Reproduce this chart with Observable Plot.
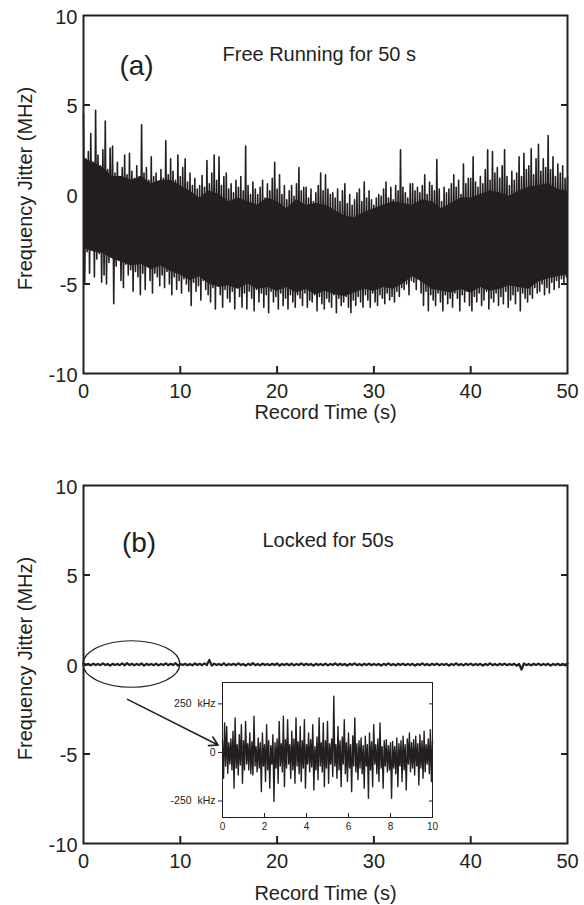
<!DOCTYPE html>
<html><head><meta charset="utf-8">
<script src="https://cdn.jsdelivr.net/npm/d3@7"></script>
<script src="https://cdn.jsdelivr.net/npm/@observablehq/plot@0.6"></script>
<style>
body{margin:0;background:#fff;}
#wrap{position:relative;width:584px;height:905px;overflow:hidden;}
#wrap svg{position:absolute;overflow:visible;}
</style></head><body><div id="wrap"></div>
<script>
const INK = "#231f20";
const FONT = "'Liberation Sans', Arial, Helvetica, sans-serif";

// ---- Panel (a): free running, 50 s (MHz); upper and lower excursions every 0.25 s ----
const stepA = 0.25;
const tipHiA = [
  4.5,2.0,2.4,3.4, 1.8,4.7,2.2,1.6, 2.5,4.1,1.4,2.6, 2.7,1.2,1.8,1.0, 1.5,2.2,1.1,2.3,
  1.3,0.9,1.6,1.0, 3.9,1.2,1.5,0.8, 2.1,1.0,1.2,0.6, 1.4,0.9,3.0,1.1, 2.0,1.3,0.8,2.2,
  1.0,1.5,2.0,0.7, 1.2,0.5,0.9,0.3, 0.5,1.06,0.4,1.9, 0.6,1.2,2.2,0.8, 2.1,0.5,1.0,1.2,
  0.3,0.6,0.1,0.8, 0.4,1.0,0.2,2.7, 0.5,0.0,0.7,0.3, 0.0,0.4,0.8,-0.2, 0.6,0.2,0.9,1.8,
  0.3,1.1,0.0,0.5, -0.3,0.2,0.5,-0.1, 0.6,1.5,0.2,0.4, 0.4,-0.2,0.3,-0.4, 0.1,0.5,1.2,0.2,
  1.1,0.3,0.0,0.1, -0.2,0.3,-0.4,0.2, 0.6,-0.5,0.0,-0.6, -0.3,0.1,0.3,-0.4, 0.7,-0.2,0.2,-0.3,
  -0.6,-0.2,0.0,-0.1, 0.3,0.7,-0.2,0.4, -0.3,0.5,0.2,2.5, 0.4,0.1,-0.2,0.6, 0.6,0.2,0.4,0.1,
  0.5,1.1,0.0,0.7, 0.5,0.2,1.95,0.3, -0.4,0.4,0.1,0.3, 0.6,1.1,0.4,0.8, 0.0,1.7,0.6,0.9,
  0.9,2.1,0.7,0.4, 1.0,0.6,1.4,2.5, 0.8,2.4,1.2,1.5, 0.9,1.6,2.5,1.0, 0.5,1.3,0.8,1.2,
  2.1,1.0,2.3,1.4, 1.6,2.55,1.1,2.0, 2.8,1.3,2.0,1.5, 3.3,1.4,2.1,1.0, 1.7,1.2,1.6,0.9,
  1.0];
const tipLoA = [
  -5.0,-3.2,-4.4,-3.0, -4.6,-3.6,-3.3,-4.9, -4.5,-5.0,-3.8,-3.4, -6.1,-4.0,-3.6,-4.8, -5.2,-3.9,-4.5,-4.2,
  -5.4,-4.3,-4.6,-5.6, -4.4,-5.3,-4.0,-4.8, -5.5,-4.4,-4.6,-5.1, -4.5,-5.2,-4.3,-5.0, -5.6,-4.6,-5.3,-4.8,
  -5.5,-4.7,-5.0,-5.4, -6.2,-4.9,-5.4,-5.1, -5.9,-4.8,-5.3,-5.6, -6.0,-5.2,-6.4,-5.0, -5.6,-6.3,-5.3,-5.8,
  -6.0,-5.4,-6.4,-5.2, -5.7,-6.3,-5.5,-6.4, -5.4,-5.8,-6.5,-5.3, -6.0,-5.5,-6.3,-5.6, -6.6,-5.4,-6.0,-5.7,
  -6.4,-5.5,-6.2,-5.8, -6.4,-5.6,-6.0,-6.3, -5.6,-5.8,-6.2,-5.5, -6.3,-5.9,-6.0,-5.6, -6.5,-5.7,-6.1,-6.4,
  -5.8,-6.0,-6.3,-5.6, -6.6,-5.8,-6.2,-6.0, -5.7,-6.3,-6.6,-5.9, -6.2,-5.7,-6.0,-6.3, -5.6,-5.9,-6.3,-5.5,
  -6.0,-6.2,-5.6,-5.8, -6.1,-5.5,-5.9,-5.7, -6.0,-5.4,-5.7,-5.2, -5.3,-5.0,-5.6,-4.8, -4.9,-5.3,-4.6,-5.5,
  -6.2,-5.4,-6.5,-5.6, -5.9,-6.2,-5.5,-6.0, -6.5,-5.6,-6.1,-5.8, -6.3,-5.5,-5.8,-6.5, -5.6,-6.0,-5.4,-6.2,
  -6.5,-5.7,-6.0,-5.5, -6.2,-5.9,-5.4,-6.4, -5.8,-6.0,-5.5,-6.2, -5.7,-6.1,-5.4,-6.3, -5.9,-5.6,-6.1,-5.4,
  -6.5,-5.5,-5.8,-6.0, -5.6,-5.8,-5.2,-5.5, -5.4,-5.0,-5.6,-5.2, -5.5,-4.9,-5.3,-4.8, -5.2,-4.7,-5.0,-4.6];
// densely filled band (one value per second)
const coreHiA = [2.0,1.8,1.5,1.0,1.0,0.8,1.0,0.6,0.8,0.8,
  0.5,0.2,-0.2,0.2,0.0,-0.4,-0.2,-0.4,-0.6,-0.2,
  -0.4,-0.8,-0.3,-0.6,-0.5,-0.6,-0.9,-1.2,-1.3,-1.0,
  -0.8,-0.6,-0.4,-0.5,-0.6,-0.3,-0.4,-0.8,-0.5,-0.2,
  -0.2,0.0,0.2,0.1,-0.1,0.2,0.4,0.5,0.6,0.3,0.2];
const coreLoA = [-3.0,-3.2,-3.3,-3.6,-3.8,-4.0,-3.9,-4.2,-4.0,-4.3,
  -4.5,-4.8,-4.6,-5.0,-5.2,-5.1,-5.3,-5.0,-5.3,-5.2,
  -5.4,-5.2,-5.5,-5.3,-5.6,-5.4,-5.6,-5.7,-5.5,-5.3,
  -5.4,-5.2,-5.3,-5.0,-4.6,-4.9,-5.3,-5.4,-5.5,-5.3,
  -5.5,-5.2,-5.4,-5.3,-5.1,-5.2,-5.3,-4.9,-4.7,-4.6,-4.5];

// ---- Panel (b): locked, 50 s (MHz) ----
const stepB = 0.5;
const hiB = [0.04,0.03,0.05,0.03,0.06,0.03,0.04,0.03,0.06,0.08,
  0.04,0.03,0.06,0.04,0.03,0.05,0.03,0.06,0.04,0.08,
  0.03,0.04,0.03,0.06,0.04,0.06,0.26,0.05,0.03,0.07,
  0.03,0.04,0.06,0.03,0.04,0.08,0.03,0.05,0.03,0.04,
  0.06,0.03,0.04,0.05,0.03,0.06,0.04,0.03,0.04,0.03,
  0.05,0.03,0.06,0.04,0.03,0.04,0.06,0.03,0.04,0.05,
  0.03,0.03,0.04,0.06,0.03,0.04,0.05,0.03,0.04,0.03,
  0.06,0.03,0.04,0.05,0.03,0.04,0.03,0.06,0.03,0.04,
  0.05,0.03,0.04,0.03,0.06,0.03,0.04,0.05,0.03,0.04,
  0.03,0.06,0.03,0.04,0.05,0.03,0.04,0.03,0.04,0.03,
  0.04];
const loB = [-0.03,-0.05,-0.03,-0.04,-0.03,-0.06,-0.03,-0.04,-0.05,-0.03,
  -0.04,-0.03,-0.06,-0.03,-0.04,-0.05,-0.03,-0.04,-0.03,-0.06,
  -0.03,-0.04,-0.05,-0.03,-0.04,-0.03,-0.06,-0.03,-0.04,-0.05,
  -0.03,-0.04,-0.03,-0.06,-0.03,-0.04,-0.05,-0.03,-0.04,-0.03,
  -0.06,-0.03,-0.04,-0.05,-0.03,-0.04,-0.03,-0.06,-0.03,-0.04,
  -0.05,-0.03,-0.04,-0.03,-0.06,-0.03,-0.04,-0.05,-0.03,-0.04,
  -0.03,-0.06,-0.03,-0.04,-0.05,-0.03,-0.04,-0.03,-0.06,-0.03,
  -0.04,-0.05,-0.03,-0.04,-0.03,-0.06,-0.03,-0.04,-0.05,-0.03,
  -0.04,-0.03,-0.06,-0.03,-0.04,-0.05,-0.03,-0.04,-0.03,-0.06,
  -0.28,-0.04,-0.05,-0.03,-0.04,-0.03,-0.06,-0.03,-0.04,-0.05];

// ---- Inset: first 10 s of locked trace (kHz) ----
const stepInset = 0.1;
const insetHi = [60,152,134,50,70,109,178,40,91,143,
  60,160,45,100,55,186,30,74,50,100,
  40,143,60,35,91,50,70,160,45,186,
  65,169,40,109,70,178,55,134,60,169,
  40,100,65,143,30,80,178,50,152,60,
  160,45,70,290,40,134,60,80,169,50,
  100,40,85,178,45,60,74,35,83,40,
  100,55,143,40,70,152,30,60,66,35,
  50,57,30,74,45,60,83,40,70,100,
  50,65,83,45,91,60,109,40,70,117,
  60];
const insetLo = [-133,-70,-107,-60,-90,-184,-80,-116,-65,-159,
  -90,-60,-90,-110,-116,-70,-100,-80,-202,-70,
  -150,-90,-184,-60,-253,-80,-159,-70,-100,-176,
  -80,-60,-133,-90,-159,-70,-110,-150,-80,-184,
  -60,-100,-75,-193,-90,-141,-70,-100,-176,-80,
  -159,-60,-124,-70,-133,-90,-176,-60,-110,-150,
  -80,-202,-70,-100,-141,-80,-110,-184,-70,-236,
  -90,-176,-60,-110,-150,-80,-184,-70,-100,-90,
  -236,-80,-110,-176,-70,-150,-90,-193,-60,-100,
  -80,-116,-70,-167,-80,-133,-100,-60,-110,-150];

// ---- Ticks / labels / annotations ----
const xTicks = [0,10,20,30,40,50];
const xInnerTicks = [10,20,30,40];
const yTicks = [-10,-5,0,5,10];
const yInnerTicks = [-5,0,5];
const insetXTicks = [0,2,4,6,8,10];
const insetXInner = [2,4,6,8];
const insetYTicks = [-250,0,250];
const insetYLabels = ["-250\u00a0 kHz","0","250\u00a0 kHz"];
const zoomEllipse = [{t0:0, t1:10, v0:-1.3, v1:1.3}];
const zoomArrow = [{t1:4.55, v1:-1.95, t2:13.9, v2:-4.5}];

function zigzag(hi, lo, step) {
  const rows = [];
  hi.forEach((h, i) => {
    rows.push({t: i * step, v: h});
    if (i < lo.length) rows.push({t: i * step + step / 2, v: lo[i]});
  });
  return rows;
}

function frameMarks(xlabelDy) {
  return [
    Plot.frame({stroke: INK, strokeWidth: 2}),
    Plot.axisX(xTicks, {tickSize: 0, tickPadding: 10, tickFormat: d => String(d), label: null, fill: INK}),
    Plot.axisX(xInnerTicks, {tickSize: -7, strokeWidth: 2, stroke: INK, tickFormat: () => "", label: null}),
    Plot.axisY(yTicks, {tickSize: 0, tickPadding: 6, tickFormat: d => String(d), label: null, fill: INK, dy: 2}),
    Plot.axisY(yInnerTicks, {tickSize: -7, strokeWidth: 2, stroke: INK, tickFormat: () => "", label: null}),
    Plot.axisY(yInnerTicks, {anchor: "right", tickSize: -7, strokeWidth: 2, stroke: INK, tickFormat: () => "", label: null}),
    Plot.text(["Record Time (s)"], {frameAnchor: "bottom", dy: xlabelDy, fontSize: 20, fill: INK,
      textAnchor: "middle", lineAnchor: "middle"}),
    Plot.text(["Frequency Jitter (MHz)"], {frameAnchor: "left", rotate: -90, dx: -58, dy: -6, fontSize: 20, fill: INK,
      textAnchor: "middle", lineAnchor: "middle"})
  ];
}

const wrap = document.getElementById("wrap");
function place(svg, left, top) {
  svg.style.left = left + "px";
  svg.style.top = top + "px";
  wrap.appendChild(svg);
}

// Panel (a)
const coreA = coreHiA.map((h, i) => ({t: i, hi: h, lo: coreLoA[i]}));
const plotA = Plot.plot({
  width: 584, height: 420,
  marginLeft: 83, marginRight: 17, marginTop: 15, marginBottom: 47,
  x: {domain: [0, 50]}, y: {domain: [-10, 10]},
  style: {background: "transparent", fontFamily: FONT, fontSize: "20px", color: INK},
  marks: [
    Plot.areaY(coreA, {x: "t", y1: "lo", y2: "hi", fill: INK}),
    Plot.line(zigzag(tipHiA, tipLoA, stepA), {x: "t", y: "v", stroke: INK, strokeWidth: 1.6}),
    ...frameMarks(39),
    Plot.text(["(a)"], {frameAnchor: "top-left", dx: 53, dy: 51, fontSize: 28, textAnchor: "middle", lineAnchor: "middle", fill: INK}),
    Plot.text(["Free Running for 50 s"], {frameAnchor: "top-left", dx: 139, dy: 39, fontSize: 20, textAnchor: "start", lineAnchor: "middle", fill: INK})
  ]
});
place(plotA, 0, 0);

// Panel (b)
const ellipseMark = (index, {x, y}) => {
  const g = d3.create("svg:g");
  for (const e of zoomEllipse) {
    g.append("ellipse")
      .attr("cx", (x(e.t0) + x(e.t1)) / 2)
      .attr("cy", (y(e.v0) + y(e.v1)) / 2)
      .attr("rx", Math.abs(x(e.t1) - x(e.t0)) / 2)
      .attr("ry", Math.abs(y(e.v1) - y(e.v0)) / 2)
      .attr("fill", "none").attr("stroke", INK).attr("stroke-width", 1.2);
  }
  return g.node();
};
const plotB = Plot.plot({
  width: 584, height: 435,
  marginLeft: 83, marginRight: 17, marginTop: 15, marginBottom: 62,
  x: {domain: [0, 50]}, y: {domain: [-10, 10]},
  style: {background: "transparent", fontFamily: FONT, fontSize: "20px", color: INK},
  marks: [
    Plot.line(zigzag(hiB, loB, stepB), {x: "t", y: "v", stroke: INK, strokeWidth: 2.2}),
    ellipseMark,
    Plot.arrow(zoomArrow, {x1: "t1", y1: "v1", x2: "t2", y2: "v2", stroke: INK, strokeWidth: 1.6, headLength: 9}),
    ...frameMarks(50),
    Plot.text(["(b)"], {frameAnchor: "top-left", dx: 55.5, dy: 57.5, fontSize: 28, textAnchor: "middle", lineAnchor: "middle", fill: INK}),
    Plot.text(["Locked for 50s"], {frameAnchor: "top-left", dx: 179, dy: 55, fontSize: 20, textAnchor: "start", lineAnchor: "middle", fill: INK})
  ]
});
place(plotB, 0, 470);

// Inset
const plotInset = Plot.plot({
  width: 282, height: 165,
  marginLeft: 62, marginRight: 10, marginTop: 10, marginBottom: 20,
  x: {domain: [0, 10]}, y: {domain: [-335, 360]},
  style: {background: "transparent", fontFamily: FONT, fontSize: "10px", color: INK},
  marks: [
    Plot.line(zigzag(insetHi, insetLo, stepInset), {x: "t", y: "v", stroke: INK, strokeWidth: 1.4}),
    Plot.frame({stroke: INK, strokeWidth: 1}),
    Plot.axisX(insetXTicks, {tickSize: 0, tickPadding: 5, tickFormat: d => String(d), label: null, fill: INK}),
    Plot.axisX(insetXInner, {tickSize: -4, stroke: INK, tickFormat: () => "", label: null}),
    Plot.axisY(insetYTicks, {tickSize: 4, tickPadding: 3, stroke: INK, fill: INK, fontSize: 10.5,
      tickFormat: d => insetYLabels[insetYTicks.indexOf(d)], label: null}),
    Plot.axisY(insetYTicks, {anchor: "right", tickSize: -4, stroke: INK, tickFormat: () => "", label: null})
  ]
});
place(plotInset, 160, 672);
</script></body></html>
